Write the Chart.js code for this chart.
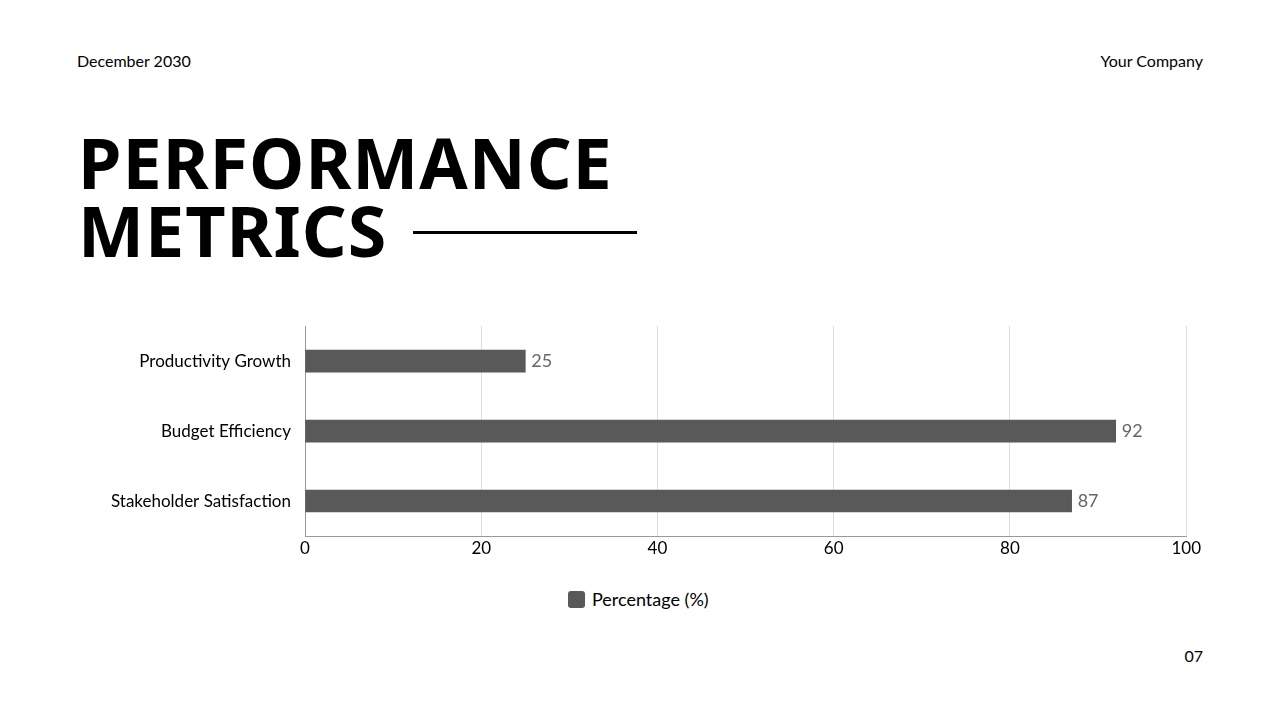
<!DOCTYPE html>
<html><head><meta charset="utf-8">
<script src="https://cdn.jsdelivr.net/npm/chart.js@4"></script>
<style>
body{margin:0;width:1280px;height:720px;background:#fff;font-family:Lato,"Noto Sans",sans-serif;position:relative;overflow:hidden;color:#000}
.t{position:absolute;font-size:16px}
h1{position:absolute;left:78px;top:128px;margin:0;font-size:70px;line-height:68px;font-weight:700;letter-spacing:1px;font-family:"Noto Sans",sans-serif}
#line{position:absolute;left:413px;top:231px;width:224px;height:3px;background:#000}
#cw{position:absolute;left:70px;top:310px;width:1133px;height:255px}
#leg{position:absolute;left:568px;top:588px;font-size:18px;display:flex;align-items:center}
#leg span{display:inline-block;width:17px;height:17px;background:#595959;border-radius:3px;margin-right:7px}
</style></head><body>
<div class="t" style="left:77px;top:51px">December 2030</div>
<div class="t" style="right:77px;top:51px">Your Company</div>
<h1>PERFORMANCE<br>METRICS</h1><div id="line"></div>
<div id="cw"><canvas id="c"></canvas></div>
<div id="leg"><span></span>Percentage (%)</div>
<div class="t" style="right:77px;top:646px">07</div>
<script>
const categories=["Productivity Growth","Budget Efficiency","Stakeholder Satisfaction"];
const values=[25,92,87];
const seriesName="Percentage (%)";
const labelPlugin={id:'vl',afterDatasetsDraw(ch){const ctx=ch.ctx;const m=ch.getDatasetMeta(0);ctx.save();ctx.fillStyle='#666';ctx.font='18px Lato, "Noto Sans", sans-serif';ctx.textBaseline='middle';m.data.forEach((b,i)=>ctx.fillText(values[i],b.x+6,b.y));ctx.restore();}};
new Chart(document.getElementById('c'),{type:'bar',data:{labels:categories,datasets:[{label:seriesName,data:values,backgroundColor:'#595959',barThickness:22}]},
options:{indexAxis:'y',responsive:true,maintainAspectRatio:false,animation:false,layout:{padding:{top:7}},
plugins:{legend:{display:false},tooltip:{enabled:false}},
scales:{x:{min:0,max:100,ticks:{stepSize:20,color:'#000',font:{size:17,family:'Lato, "Noto Sans", sans-serif'},padding:2},grid:{color:'#ddd',drawTicks:false},border:{color:'#999'},afterFit(s){s.height=29;}},
y:{ticks:{color:'#000',font:{size:17,family:'Lato, "Noto Sans", sans-serif'},padding:6},grid:{display:false},border:{color:'#999'},afterFit(s){s.width=235;}}}},
plugins:[labelPlugin]});
</script></body></html>
